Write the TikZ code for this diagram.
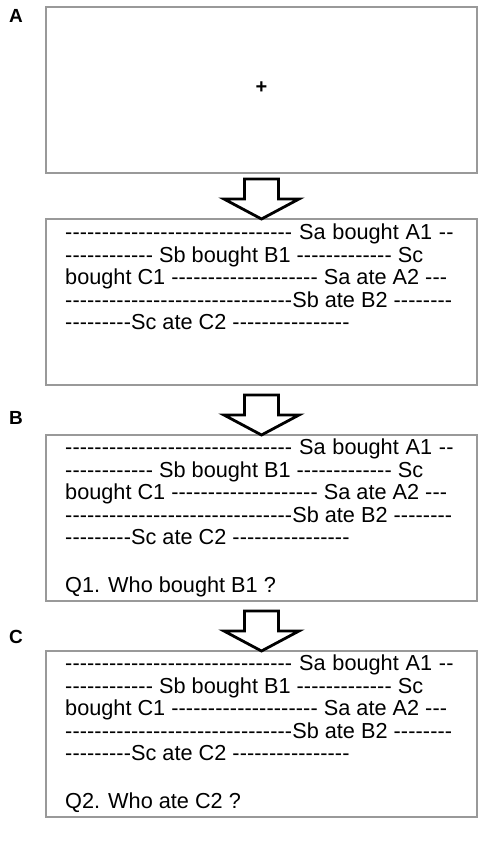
\documentclass[tikz,border=0pt]{standalone}
\usepackage{fontspec}
\setmainfont{Liberation Sans}
\usetikzlibrary{positioning}

% a run of single hyphens (no -- ligature)
\newcommand{\dashrun}[1]{\foreach\k in {1,...,#1}{-\kern0.1pt}}
% the five lines of the story shown in every panel
\newcommand{\storylines}{%
  \spaceskip=6.8pt\relax
  \dashrun{31} Sa bought A1 \dashrun{2}\\
  \dashrun{12} Sb bought B1 \dashrun{13} Sc\\
  bought C1 \dashrun{20} Sa ate A2 \dashrun{3}\\
  \dashrun{31}Sb ate B2 \dashrun{8}\\
  \dashrun{9}Sc ate C2 \dashrun{16}}

\begin{document}
\begin{tikzpicture}[x=1pt,y=-1pt,
  panel/.style={draw=black!40,line width=1.5pt,minimum width=431pt,
    minimum height=166pt,inner sep=0pt,outer sep=0pt,anchor=north west},
  story/.style={align=left,inner sep=0pt,
    font=\fontsize{21.7}{22.5}\selectfont},
  tag/.style={font=\fontsize{19}{19}\bfseries\selectfont},
  down/.style={draw=black,line width=2.8pt,fill=white,line join=miter}]
  \useasboundingbox (0,0) rectangle (486,850);
  % panels
  \node[panel] (fix)   at (46,7)   {};
  \node[panel] (read)  at (46,219) {};
  \node[panel] (askB)  at (46,435) {};
  \node[panel] (askC)  at (46,651) {};
  % fixation cross
  \node[font=\fontsize{20}{20}\bfseries\selectfont] (cross)
    at ([yshift=2pt]fix.center) {+};
  % story texts
  \node[story,below right=5pt and 19pt of read.north west] (txtread)
    {\storylines};
  \node[story,below right=4pt and 19pt of askB.north west] (txtB)
    {\storylines\\[25pt]Q1. Who bought B1 ?};
  \node[story,below right=4pt and 19pt of askC.north west] (txtC)
    {\storylines\\[25pt]Q2. Who ate C2 ?};
  % block arrows, tip on the next panel
  \foreach \nxt in {read,askB,askC}
    \draw[down] (\nxt.north) -- ++(-37.5,-20) -- ++(20.5,0) -- ++(0,-20)
      -- ++(34,0) -- ++(0,20) -- ++(20.5,0) -- cycle;
  % panel letters
  \node[tag] (labA) at (16,16)  {A};
  \node[tag] (labB) at (16,418) {B};
  \node[tag] (labC) at (16,637) {C};
\end{tikzpicture}
\end{document}
